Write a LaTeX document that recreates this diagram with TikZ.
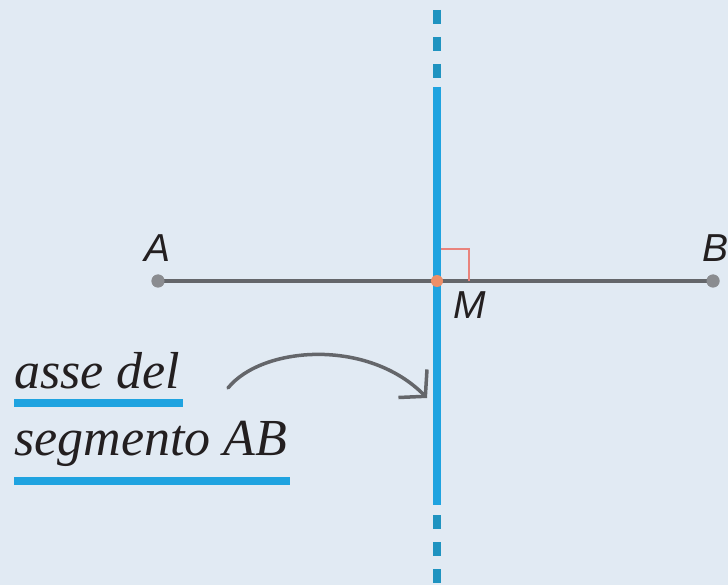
\documentclass[tikz,border=0pt]{standalone}
\usepackage{fontspec}
\setmainfont{Liberation Serif}
\setsansfont{Liberation Sans}
\usetikzlibrary{arrows.meta}
\definecolor{bg}{HTML}{E1EAF3}
\definecolor{axisblue}{HTML}{1FA3E0}
\definecolor{dashblue}{HTML}{1F93C0}
\definecolor{segrey}{HTML}{64666A}
\definecolor{dotgrey}{HTML}{8A8C90}
\definecolor{rightred}{HTML}{E9837C}
\definecolor{morange}{HTML}{EE8F68}
\definecolor{txt}{HTML}{231F20}
\tikzset{
  ptlabel/.style={font=\fontsize{39}{41}\selectfont\sffamily\itshape, text=txt, inner sep=0pt},
  caption/.style={font=\fontsize{52}{56}\selectfont\rmfamily\itshape, text=txt, inner sep=0pt, anchor=base west},
  enddot/.style={circle, fill=dotgrey, minimum size=13pt, inner sep=0pt},
  middot/.style={circle, fill=morange, minimum size=12pt, inner sep=0pt},
  axisline/.style={draw=axisblue, line width=8pt},
  axisdash/.style={draw=dashblue, line width=7.5pt, dash pattern=on 14pt off 13pt},
  uline/.style={draw=axisblue, line width=8.5pt},
}
\begin{document}
\begin{tikzpicture}[x=1pt,y=-1pt]
\fill[bg] (0,0) rectangle (728,585);
\useasboundingbox (0,0) rectangle (728,585);
% points
\node[enddot] (A) at (158,281) {};
\node[enddot] (B) at (713,281) {};
\coordinate (Mc) at (437,281);
% segment
\draw[segrey, line width=3.2pt] (A.center) -- (B.center);
\node[enddot] at (A.center) {};
\node[enddot] at (B.center) {};
% right angle mark
\coordinate (r1) at (437,249);
\coordinate (r2) at (469,249);
\coordinate (r3) at (469,281);
\draw[rightred, line width=2pt] (r1) -- (r2) -- (r3);
% axis
\coordinate (ta) at (437,10);
\coordinate (tb) at (437,78);
\coordinate (sa) at (437,87);
\coordinate (sb) at (437,505);
\coordinate (ba) at (437,515);
\coordinate (bb) at (437,585);
\draw[axisdash] (ta) -- (tb);
\draw[axisline] (sa) -- (sb);
\draw[axisdash] (ba) -- (bb);
\node[middot] (M) at (Mc) {};
% labels
\node[ptlabel, anchor=base] (lA) at (158,262) {A};
\node[ptlabel, anchor=base west] (lB) at (702,262) {B};
\node[ptlabel, anchor=base west] (lM) at (453,318) {M};
% caption
\node[caption] (c1) at (14,388) {asse del};
\node[caption] (c2) at (14,455) {segmento AB};
\coordinate (u1a) at (14,403);
\coordinate (u1b) at (183,403);
\coordinate (u2a) at (14,481);
\coordinate (u2b) at (290,481);
\draw[uline] (u1a) -- (u1b);
\draw[uline] (u2a) -- (u2b);
% arrow
\coordinate (as) at (228,388);
\coordinate (ae) at (427,398);
\draw[segrey, line width=3.5pt, line cap=round, -{Straight Barb[length=18pt,width=40pt,line width=3.5pt]}]
  (as) .. controls (262,346) and (368,338) .. (ae);
\end{tikzpicture}
\end{document}
